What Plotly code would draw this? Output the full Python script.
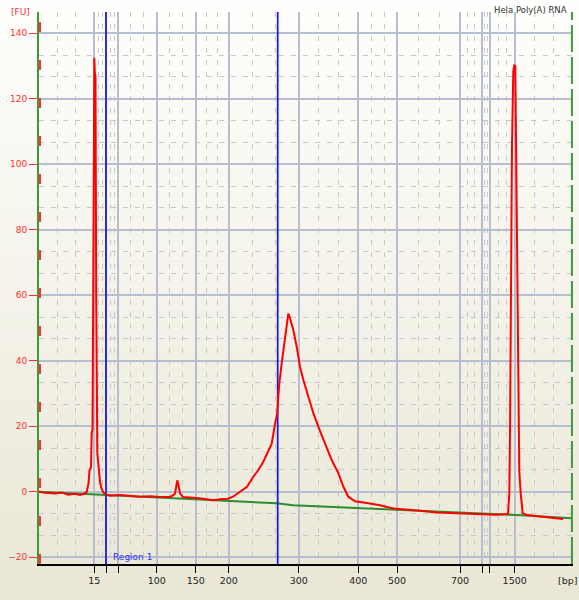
import plotly.graph_objects as go

# ---------------- data (migration time in s, fluorescence in FU) ----------------
sample_time = [20.0, 20.6, 21.6, 22.3, 22.9, 23.6, 24.1, 24.5, 24.77, 24.95, 25.05, 25.2,
               25.27, 25.35, 25.42, 25.48, 25.53, 25.58, 25.65, 25.72, 25.77, 25.83, 25.95,
               26.1, 26.25, 26.43, 26.7, 27.1, 28.1, 29.1, 30.1, 31.1, 32.1, 33.1, 33.3,
               33.6, 33.75, 33.83, 33.95, 34.1, 34.4, 35.1, 35.77, 36.6, 37.4, 38.1, 38.9,
               39.4, 40.1, 40.8, 41.43, 41.9, 42.43, 42.9, 43.27, 43.6, 43.83, 43.9, 44.03,
               44.27, 44.6, 44.93, 45.05, 45.1, 45.43, 45.77, 46.1, 46.43, 46.93, 47.43,
               47.93, 48.6, 49.27, 49.93, 50.43, 50.93, 51.6, 52.77, 54.1, 55.43, 56.77,
               58.1, 59.77, 61.1, 62.6, 64.1, 65.6, 66.9, 67.03, 67.1, 67.2, 67.3, 67.43,
               67.53, 67.63, 67.77, 67.93, 68.03, 68.17, 68.37, 68.77, 70.1, 71.1, 72.4]
sample_fu = [0.0, -0.3, -0.5, -0.2, -0.9, -0.6, -1.0, -0.6, 0.0, 2.5, 6.5, 7.5,
             18.0, 19.0, 60.0, 120.0, 132.5, 128.0, 127.0, 60.0, 42.0, 12.0, 8.0,
             3.0, 1.0, -0.2, -0.8, -1.2, -1.0, -1.3, -1.5, -1.4, -1.6, -1.5, -1.3,
             -0.6, 2.5, 3.5, 2.0, -0.5, -1.6, -1.7, -1.9, -2.2, -2.6, -2.3, -2.1,
             -1.5, -0.1, 1.5, 4.6, 6.5, 9.2, 12.0, 14.7, 20.7, 24.0, 28.0, 33.0,
             39.3, 46.3, 54.4, 53.5, 53.0, 49.4, 44.3, 38.2, 34.2, 29.1, 24.0,
             19.9, 14.9, 9.7, 5.7, 1.6, -1.5, -2.9, -3.4, -4.1, -5.1, -5.4,
             -5.8, -6.3, -6.5, -6.6, -6.9, -7.0, -6.8, -0.5, 17.5, 60.0, 106.0, 128.5,
             130.2, 130.0, 86.8, 49.6, 6.2, -0.5, -6.6, -7.1, -7.6, -8.0, -8.3]

baseline_time = [20.0, 26.1, 30.4, 38.9, 42.1, 43.77, 45.4, 48.4, 51.77, 55.1, 60.1,
                 61.1, 67.77, 73.3]
baseline_fu = [0.0, -0.9, -1.7, -2.8, -3.3, -3.5, -4.1, -4.5, -5.0, -5.6, -6.1,
               -6.4, -7.1, -8.1]

# ladder sizes (bp) and their migration times -> x axis ticks
ladder_time = [25.53, 26.70, 27.90, 31.77, 35.67, 38.97, 45.97, 51.93, 55.80, 62.10,
               64.30, 65.07, 67.57]
ladder_labels = ["15", "", "", "100", "150", "200", "300", "400", "500", "700",
                 "", "", "1500"]

# region 1 boundaries (s)
region_bounds = [26.70, 43.87]

fu_ticks = [-20, 0, 20, 40, 60, 80, 100, 120, 140]

# ---------------- layout constants ----------------
W, H = 579, 600
ML, MR, MT, MB = 39, 6, 12, 36
XR = [20.0, 73.4]
YR = [-22.05, 146.5]
pw, ph = W - ML - MR, H - MT - MB

def thirds(vals):
    out = []
    for a, b in zip(vals[:-1], vals[1:]):
        out += [a + (b - a) / 3, a + 2 * (b - a) / 3]
    return out

x_minor = thirds([XR[0]] + ladder_time + [XR[1]])
y_minor = thirds(list(range(-40, 181, 20)))

fig = go.Figure()

# background gradient
shapes = []
nb = 60
for i in range(nb):
    f = i / (nb - 1)
    r = round(254 + (234 - 254) * f)
    g = round(254 + (231 - 254) * f)
    b = round(252 + (214 - 252) * f)
    y_top = 1 + MT / ph - i * (H / nb) / ph
    y_bot = y_top - (H / nb) / ph - 0.002
    shapes.append(dict(type="rect", xref="paper", yref="paper",
                       x0=-ML / pw - 0.01, x1=1 + MR / pw + 0.01, y0=y_bot, y1=y_top,
                       fillcolor=f"rgb({r},{g},{b})", line=dict(width=0), layer="below"))

# left axis red dashes and right green dashed border
shapes.append(dict(type="line", xref="paper", yref="paper", x0=1.0 / pw, x1=1.0 / pw,
                   y0=0, y1=1,
                   line=dict(color="#FF3030", width=2, dash="10px,28px"), layer="above"))
shapes.append(dict(type="line", xref="paper", yref="paper", x0=0.998, x1=0.998, y0=0, y1=1,
                   line=dict(color="#3C9A3C", width=2, dash="27px,5px"), layer="above"))

fig.add_trace(go.Scatter(x=baseline_time, y=baseline_fu, mode="lines",
                         line=dict(color="#2E8B2E", width=2), hoverinfo="skip"))
for rb in region_bounds:
    fig.add_trace(go.Scatter(x=[rb, rb], y=[YR[0], YR[1]], mode="lines",
                             line=dict(color="#1010FF", width=1.7), hoverinfo="skip"))
fig.add_trace(go.Scatter(x=sample_time, y=sample_fu, mode="lines",
                         line=dict(color="#FF0000", width=2)))

fig.update_layout(
    width=W, height=H,
    margin=dict(l=ML, r=MR, t=MT, b=MB, pad=0),
    paper_bgcolor="#FFFFFF", plot_bgcolor="rgba(0,0,0,0)",
    showlegend=False,
    shapes=shapes,
    font=dict(family="DejaVu Sans", size=10, color="#222222"),
    xaxis=dict(range=XR, tickmode="array", tickvals=ladder_time, ticktext=ladder_labels,
               showgrid=True, gridcolor="#B6BED0", gridwidth=1.5, zeroline=False,
               showline=True, linecolor="#000000", linewidth=1.5,
               ticks="outside", ticklen=7, tickcolor="#000000", tickwidth=1.2,
               tickfont=dict(family="DejaVu Sans", size=9.5, color="#222222"),
               minor=dict(tickvals=x_minor, showgrid=True, gridcolor="#C8C8C8",
                          gridwidth=1, griddash="5px,7px", ticks="")),
    yaxis=dict(range=YR, tickmode="array", tickvals=fu_ticks,
               showgrid=True, gridcolor="#B6BED0", gridwidth=1.5, zeroline=False,
               showline=True, linecolor="#3C9A3C", linewidth=2,
               ticks="outside", ticklen=8, tickcolor="#FF3030", tickwidth=1.2,
               tickfont=dict(family="DejaVu Sans", size=9, color="#FF3030"),
               minor=dict(tickvals=y_minor, showgrid=True, gridcolor="#C8C8C8",
                          gridwidth=1, griddash="5px,7px", ticks="")),
    annotations=[
        dict(text="[FU]", xref="paper", yref="paper", x=-19 / pw, y=1.0,
             xanchor="center", yanchor="middle", showarrow=False,
             font=dict(family="DejaVu Sans", size=9, color="#FF3030")),
        dict(text="Hela Poly(A) RNA", xref="paper", yref="paper", x=(569 - ML) / pw,
             y=1 + (MT - 10.5) / ph, xanchor="right", yanchor="middle", showarrow=False,
             font=dict(family="DejaVu Sans", size=8.5, color="#333333")),
        dict(text="Region 1", xref="paper", yref="paper", x=(111 - ML) / pw,
             y=(H - MB - 557) / ph, xanchor="left", yanchor="middle", showarrow=False,
             font=dict(family="DejaVu Sans", size=9, color="#3030FF")),
        dict(text="[bp]", xref="paper", yref="paper", x=(556 - ML) / pw,
             y=(H - MB - 580) / ph, xanchor="left", yanchor="middle", showarrow=False,
             font=dict(family="DejaVu Sans", size=9.5, color="#222222")),
    ],
)

fig.write_html("out.html", config={"displayModeBar": False},
               post_script="document.body.style.margin='0';document.body.style.overflow='hidden';")
